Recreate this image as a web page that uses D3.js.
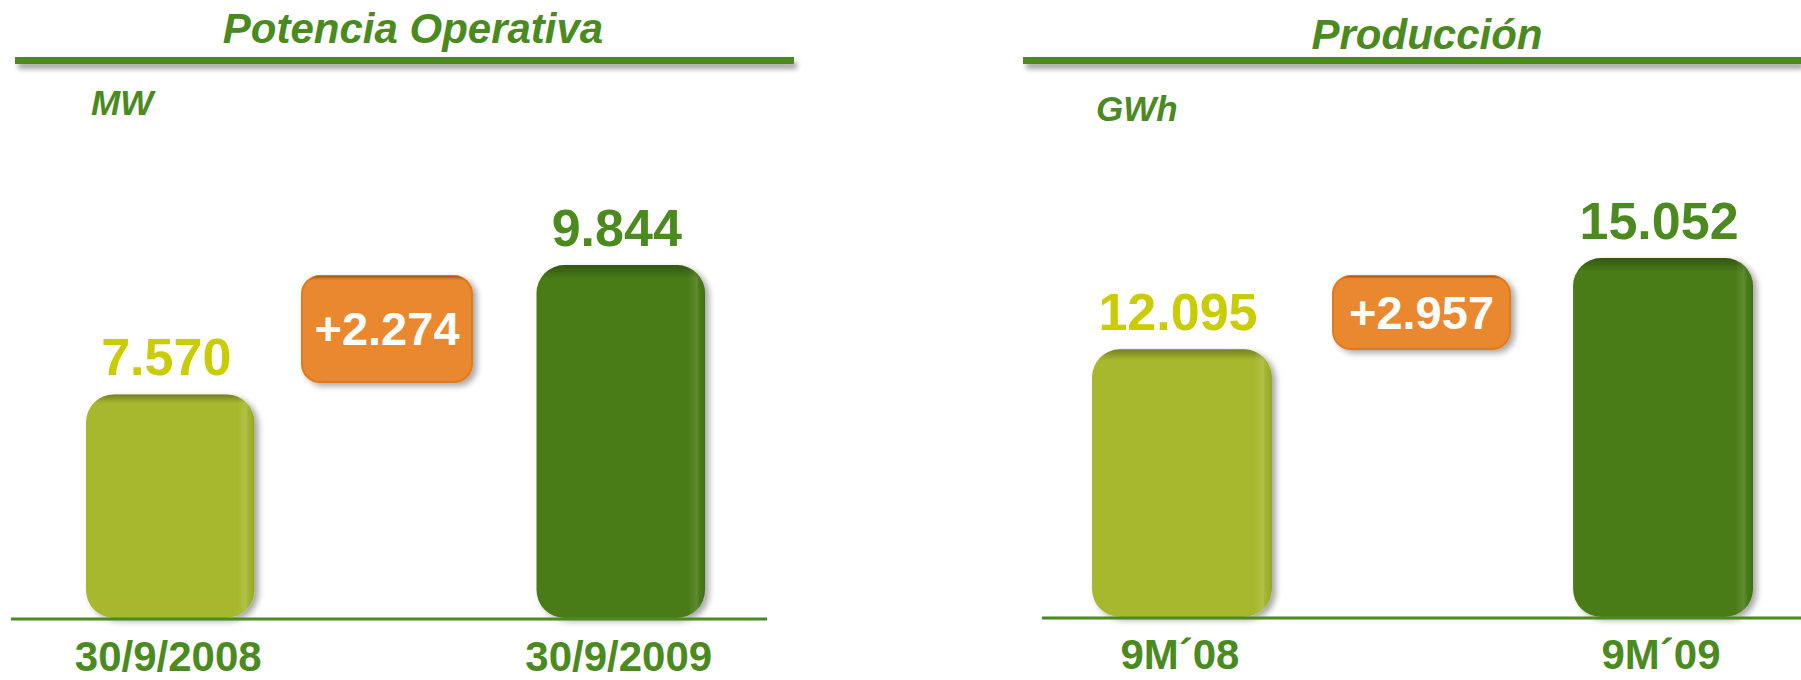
<!DOCTYPE html>
<html>
<head>
<meta charset="utf-8">
<script src="https://cdn.jsdelivr.net/npm/d3@7"></script>
<style>
  body { margin: 0; background: #fff; }
  text { font-family: "Liberation Sans", Arial, sans-serif; font-weight: bold; }
</style>
</head>
<body>
<svg id="chart"></svg>
<script>
// Potencia Operativa (MW)
const potenciaCats = ["30/9/2008", "30/9/2009"];
const potenciaVals = [7570, 9844];
const potenciaDelta = "+2.274";

// Producción (GWh)
const produccionCats = ["9M\u00B408", "9M\u00B409"];
const produccionVals = [12095, 15052];
const produccionDelta = "+2.957";

const width = 1801;
const height = 680;

const svg = d3.select("#chart")
  .attr("width", width)
  .attr("height", height);

const green = "#4B8A1F";
const barColors = ["#A7B82F", "#4A7C18"];
const valColors = ["#C9CC00", "#4B8A1E"];
const fmt = v => d3.format(",")(v).replace(/,/g, ".");

const defs = svg.append("defs");

// sombras
const sh = defs.append("filter").attr("id", "sombra")
  .attr("x", "-10%").attr("y", "-10%").attr("width", "130%").attr("height", "130%");
sh.append("feDropShadow").attr("dx", 4).attr("dy", 3).attr("stdDeviation", 3)
  .attr("flood-color", "#000").attr("flood-opacity", 0.35);

const shLine = defs.append("filter").attr("id", "sombraLinea")
  .attr("filterUnits", "userSpaceOnUse")
  .attr("x", 0).attr("y", 40).attr("width", width).attr("height", 50);
shLine.append("feDropShadow").attr("dx", 3).attr("dy", 5).attr("stdDeviation", 2.5)
  .attr("flood-color", "#000").attr("flood-opacity", 0.35);

// borde superior oscuro
const vg = defs.append("linearGradient").attr("id", "bordeSup")
  .attr("x1", 0).attr("y1", 0).attr("x2", 0).attr("y2", 1);
vg.append("stop").attr("offset", "0%").attr("stop-color", "#000").attr("stop-opacity", 0.3);
vg.append("stop").attr("offset", "4%").attr("stop-color", "#000").attr("stop-opacity", 0);
vg.append("stop").attr("offset", "100%").attr("stop-color", "#000").attr("stop-opacity", 0);

// brillo lado derecho
const hg = defs.append("linearGradient").attr("id", "brillo")
  .attr("x1", 0).attr("y1", 0).attr("x2", 1).attr("y2", 0);
hg.append("stop").attr("offset", "0%").attr("stop-color", "#fff").attr("stop-opacity", 0);
hg.append("stop").attr("offset", "90%").attr("stop-color", "#fff").attr("stop-opacity", 0);
hg.append("stop").attr("offset", "95%").attr("stop-color", "#fff").attr("stop-opacity", 0.12);
hg.append("stop").attr("offset", "98%").attr("stop-color", "#000").attr("stop-opacity", 0.04);
hg.append("stop").attr("offset", "100%").attr("stop-color", "#000").attr("stop-opacity", 0.12);

function drawPanel(p) {
  const g = svg.append("g");

  // Titulo y linea
  g.append("rect")
    .attr("x", p.ruleX[0]).attr("y", 57)
    .attr("width", p.ruleX[1] - p.ruleX[0]).attr("height", 7)
    .attr("fill", green)
    .attr("filter", "url(#sombraLinea)");

  g.append("text")
    .attr("x", p.titleX).attr("y", p.titleY)
    .attr("text-anchor", "middle")
    .attr("font-size", 42).attr("font-style", "italic")
    .attr("fill", green)
    .text(p.title);

  g.append("text")
    .attr("x", p.unitX).attr("y", p.unitY)
    .attr("font-size", 35).attr("font-style", "italic")
    .attr("fill", green)
    .text(p.unit);

  const x = d3.scaleBand().domain(p.cats).range(p.barRange)
    .paddingInner(0.626).paddingOuter(0);
  const y = d3.scaleLinear().domain(p.domain).range([p.baseY, p.topY]);

  const data = p.cats.map((c, i) => ({ cat: c, val: p.vals[i], i: i }));

  const bars = g.selectAll("g.bar").data(data).enter().append("g").attr("class", "bar");

  ["fill", "url(#bordeSup)", "url(#brillo)"].forEach((f, k) => {
    bars.append("rect")
      .attr("x", d => x(d.cat))
      .attr("y", d => y(d.val))
      .attr("width", x.bandwidth())
      .attr("height", d => p.baseY - y(d.val))
      .attr("rx", 28).attr("ry", 28)
      .attr("fill", d => k === 0 ? barColors[d.i] : f)
      .attr("filter", k === 0 ? "url(#sombra)" : null);
  });

  // valores
  bars.append("text")
    .attr("x", d => x(d.cat) + x.bandwidth() / 2 - 4)
    .attr("y", d => y(d.val) - 19)
    .attr("text-anchor", "middle")
    .attr("font-size", 52)
    .attr("fill", d => valColors[d.i])
    .text(d => fmt(d.val));

  // eje
  g.append("line")
    .attr("x1", p.axisX[0]).attr("x2", p.axisX[1])
    .attr("y1", p.baseY + 1).attr("y2", p.baseY + 1)
    .attr("stroke", green).attr("stroke-width", 3);

  // categorias
  g.selectAll("text.cat").data(data).enter().append("text")
    .attr("class", "cat")
    .attr("x", d => x(d.cat) + x.bandwidth() / 2 - 2)
    .attr("y", p.catY)
    .attr("text-anchor", "middle")
    .attr("font-size", 42)
    .attr("fill", green)
    .text(d => d.cat);

  // caja de diferencia
  const b = p.box;
  g.append("rect")
    .attr("x", b.x).attr("y", b.y).attr("width", b.w).attr("height", b.h)
    .attr("rx", 18).attr("ry", 18)
    .attr("fill", "#E9882F").attr("stroke", "#E07A1C").attr("stroke-width", 2)
    .attr("filter", "url(#sombra)");
  g.append("rect")
    .attr("x", b.x).attr("y", b.y).attr("width", b.w).attr("height", b.h)
    .attr("rx", 18).attr("ry", 18)
    .attr("fill", "url(#bordeSup)");
  g.append("text")
    .attr("x", b.x + b.w / 2).attr("y", b.ty)
    .attr("text-anchor", "middle")
    .attr("font-size", 47)
    .attr("fill", "#fff")
    .text(p.delta);
}

drawPanel({
  title: "Potencia Operativa", titleX: 413, titleY: 43,
  ruleX: [15, 794], unit: "MW", unitX: 91, unitY: 115,
  cats: potenciaCats, vals: potenciaVals, delta: potenciaDelta,
  barRange: [86, 705], domain: [3640, 9844], baseY: 618, topY: 265,
  axisX: [11, 767], catY: 671,
  box: { x: 302, y: 276, w: 170, h: 106, ty: 345 }
});

drawPanel({
  title: "Producción", titleX: 1427, titleY: 49,
  ruleX: [1023, 1801], unit: "GWh", unitX: 1096, unitY: 121,
  cats: produccionCats, vals: produccionVals, delta: produccionDelta,
  barRange: [1092, 1753], domain: [3430, 15052], baseY: 617, topY: 258,
  axisX: [1042, 1801], catY: 669,
  box: { x: 1333, y: 276, w: 177, h: 73, ty: 329 }
});
</script>
</body>
</html>
